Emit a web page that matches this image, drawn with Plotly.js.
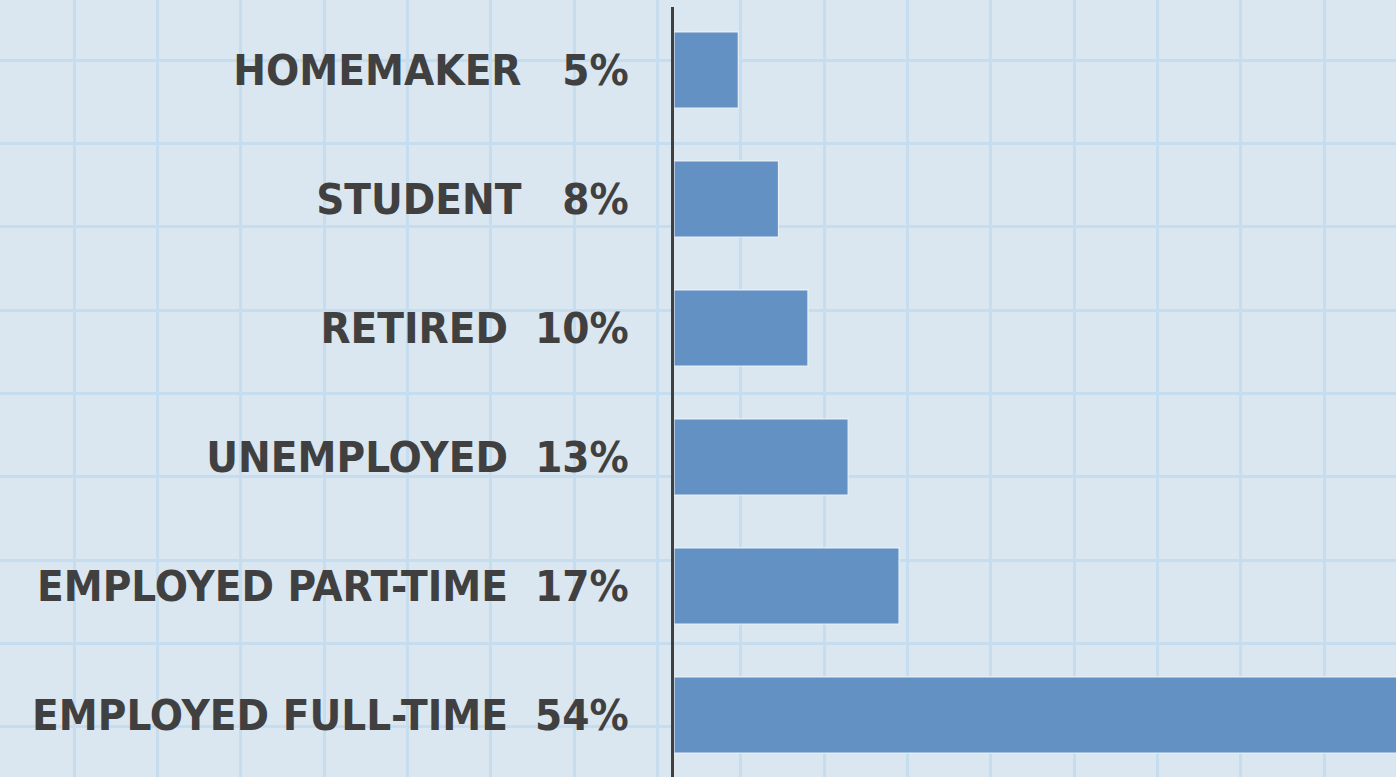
<!DOCTYPE html>
<html>
<head>
<meta charset="utf-8">
<script src="https://cdn.plot.ly/plotly-3.0.1.min.js"></script>
<style>
  html, body { margin: 0; padding: 0; background: #dae6f0; }
  #chart { width: 1396px; height: 777px; }
</style>
</head>
<body>
<div id="chart"></div>
<script>
// Categories, bottom to top
const categories = ["EMPLOYED FULL-TIME", "EMPLOYED PART-TIME", "UNEMPLOYED", "RETIRED", "STUDENT", "HOMEMAKER"];
// Shares (%)
const shares = [54, 16.8, 13, 10, 7.8, 4.8];
// Percentage labels as printed next to each category
const shareLabels = ["54%", "17%", "13%", "10%", "8%", "5%"];

const NB = "\u00A0";
const tickText = categories.map((c, i) => {
  const gap = shareLabels[i].length < 3 ? NB + NB + NB : NB + NB;
  return c + gap + shareLabels[i];
});

const labelFont = {
  family: "'DejaVu Sans Condensed', 'DejaVu Sans', sans-serif",
  size: 43.5,
  color: "#404040",
  weight: "bold"
};

const data = [
  // empty trace so the background grid subplot is drawn
  { type: "scatter", x: [], y: [], xaxis: "x", yaxis: "y", hoverinfo: "skip", showlegend: false },
  {
    type: "bar",
    orientation: "h",
    y: categories,
    x: shares,
    xaxis: "x2",
    yaxis: "y2",
    marker: { color: "#6190c4", opacity: 0.98, line: { color: "rgba(236,243,250,0.95)", width: 1.2 } },
    hoverinfo: "skip",
    showlegend: false
  }
];

const gridColor = "#c6ddf0";
const layout = {
  width: 1396,
  height: 777,
  margin: { l: 0, r: 0, t: 0, b: 0, pad: 0 },
  paper_bgcolor: "#dae6f0",
  plot_bgcolor: "rgba(0,0,0,0)",
  showlegend: false,
  bargap: 0.41,
  // decorative graph-paper grid across the whole picture
  xaxis: {
    domain: [0, 1], anchor: "y", range: [0, 1396], tick0: 74, dtick: 83.333,
    showgrid: true, gridcolor: gridColor, gridwidth: 3, zeroline: false,
    showticklabels: false, ticks: "", showline: false, fixedrange: true
  },
  yaxis: {
    domain: [0, 1], anchor: "x", range: [777, 0], tick0: 60, dtick: 83.333,
    showgrid: true, gridcolor: gridColor, gridwidth: 3, zeroline: false,
    showticklabels: false, ticks: "", showline: false, fixedrange: true
  },
  // the bar chart
  xaxis2: {
    domain: [674 / 1396, 1], anchor: "y2", range: [0, 53.9],
    showgrid: false, zeroline: false, showticklabels: false, ticks: "", showline: false
  },
  yaxis2: {
    domain: [0, 1 - 7 / 777], anchor: "x2", type: "category",
    categoryorder: "array", categoryarray: categories,
    range: [-0.481, 5.488],
    tickvals: categories, ticktext: tickText,
    tickfont: labelFont,
    ticks: "outside", ticklen: 33, tickcolor: "rgba(0,0,0,0)",
    showline: true, linecolor: "#404040", linewidth: 3.5,
    showgrid: false, zeroline: false
  }
};

Plotly.newPlot("chart", data, layout, { staticPlot: true, displayModeBar: false });
</script>
</body>
</html>
